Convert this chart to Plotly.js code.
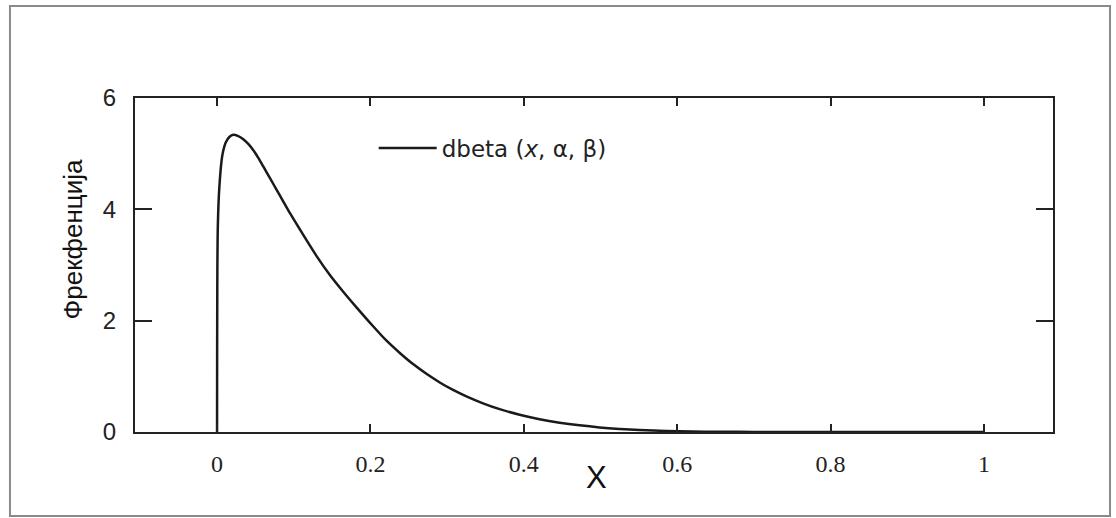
<!DOCTYPE html>
<html>
<head>
<meta charset="utf-8">
<script src="https://cdn.plot.ly/plotly-3.0.1.min.js"></script>
<style>
  html, body { margin: 0; padding: 0; background: #fff; }
  #chart { width: 1116px; height: 518px; }
</style>
</head>
<body>
<div id="chart"></div>
<script>
// Beta density curve, sampled points along x in [0, 1]
const xValues = [0, 0, 0.0003, 0.001, 0.003, 0.0069, 0.0113, 0.016, 0.0212, 0.027,
  0.0342, 0.041, 0.0473, 0.054, 0.0603, 0.069, 0.0777, 0.0864, 0.0951, 0.1124,
  0.1298, 0.1471, 0.1645, 0.1818, 0.2035, 0.221, 0.2383, 0.2556, 0.273, 0.2904,
  0.3077, 0.3251, 0.3468, 0.3685, 0.3945, 0.4206, 0.4466, 0.4727, 0.4987, 0.5247,
  0.5508, 0.5855, 0.62, 0.65, 0.7, 0.8, 0.9, 1];
const densityValues = [0, 0.02, 2.6, 3.7, 4.4, 4.97, 5.2, 5.3, 5.34, 5.32,
  5.26, 5.17, 5.06, 4.92, 4.77, 4.56, 4.35, 4.14, 3.93, 3.54,
  3.16, 2.82, 2.52, 2.24, 1.9, 1.64, 1.42, 1.22, 1.045, 0.89,
  0.755, 0.64, 0.515, 0.41, 0.31, 0.23, 0.168, 0.12, 0.083, 0.056,
  0.036, 0.019, 0.009, 0.005, 0.0015, 0, 0, 0];

const xTickVals = [0, 0.2, 0.4, 0.6, 0.8, 1];
const xTickText = ['0', '0.2', '0.4', '0.6', '0.8', '1'];
const yTickVals = [0, 2, 4, 6];
const yTickText = ['0', '2', '4', '6'];

const seriesName = 'dbeta (<i>x</i>, α, β)';
const xTitle = 'X';
const yTitle = 'Фрекфенција';

const axisColor = '#222';

const trace = {
  type: 'scatter',
  mode: 'lines',
  x: xValues,
  y: densityValues,
  name: seriesName,
  line: { color: '#1a1a1a', width: 2.5, shape: 'spline', smoothing: 0.8 },
  showlegend: true
};

const layout = {
  width: 1116,
  height: 518,
  margin: { l: 135, r: 63, t: 98, b: 86 },
  paper_bgcolor: '#ffffff',
  plot_bgcolor: '#ffffff',
  font: { family: 'Liberation Sans, Arial, sans-serif', color: '#222' },
  showlegend: true,
  legend: {
    x: 0.26, y: 0.85, xanchor: 'left', yanchor: 'middle',
    itemwidth: 58,
    bgcolor: 'rgba(0,0,0,0)',
    font: { family: 'DejaVu Sans, Verdana, sans-serif', size: 23, color: '#222' }
  },
  xaxis: {
    range: [-0.107, 1.09],
    tickmode: 'array',
    tickvals: xTickVals,
    ticktext: xTickText,
    ticks: 'inside',
    ticklen: 8,
    tickwidth: 2,
    tickcolor: axisColor,
    showline: true,
    linecolor: axisColor,
    linewidth: 2,
    mirror: 'ticks',
    showgrid: false,
    zeroline: false,
    automargin: false,
    ticklabelstandoff: 9,
    tickfont: { family: 'Liberation Serif, Times New Roman, serif', size: 24, color: '#222' }
  },
  yaxis: {
    range: [0, 6],
    tickmode: 'array',
    tickvals: yTickVals,
    ticktext: yTickText,
    ticks: 'inside',
    ticklen: 17,
    tickwidth: 2,
    tickcolor: axisColor,
    showline: true,
    linecolor: axisColor,
    linewidth: 2,
    mirror: 'ticks',
    showgrid: false,
    zeroline: false,
    automargin: false,
    ticklabelstandoff: 12,
    tickfont: { family: 'Liberation Sans, Arial, sans-serif', size: 24, color: '#222' }
  },
  annotations: [{
    text: yTitle,
    xref: 'paper', yref: 'paper',
    x: -0.068, y: 0.575,
    xanchor: 'center', yanchor: 'middle',
    textangle: -90,
    showarrow: false,
    font: { family: 'Liberation Sans, Arial, sans-serif', size: 26, color: '#111' }
  }, {
    text: xTitle,
    xref: 'paper', yref: 'paper',
    x: 0.503, y: -0.1377,
    xanchor: 'center', yanchor: 'middle',
    showarrow: false,
    font: { family: 'Liberation Sans, Arial, sans-serif', size: 31, color: '#111' }
  }],
  shapes: [{
    type: 'rect',
    xref: 'paper', yref: 'paper',
    x0: -0.1362, x1: 1.0621, y0: -0.2515, y1: 1.2754,
    line: { color: '#8a8a8a', width: 2 },
    layer: 'below'
  }]
};

Plotly.newPlot('chart', [trace], layout, { staticPlot: true, displayModeBar: false });
</script>
</body>
</html>
